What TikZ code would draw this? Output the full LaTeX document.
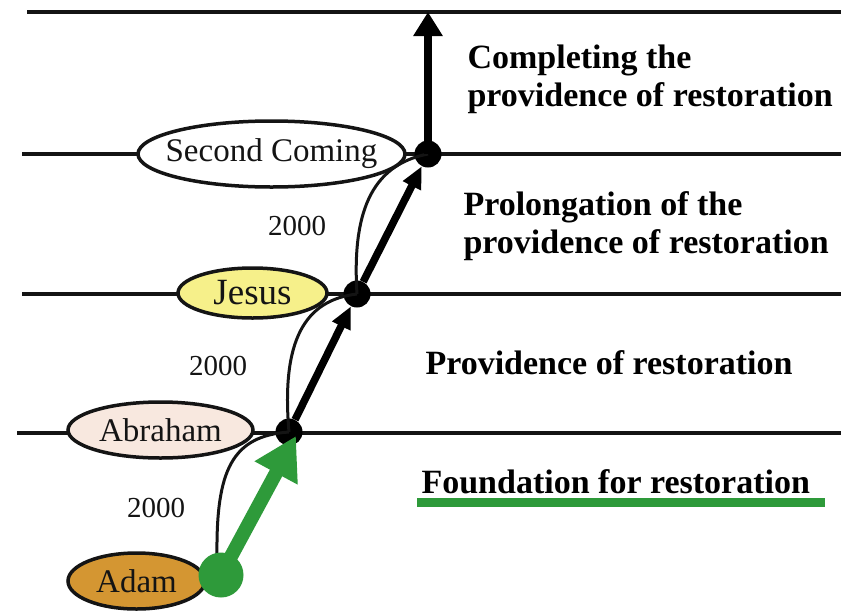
\documentclass[tikz,border=0pt]{standalone}
\usepackage{fontspec}
\setmainfont{Liberation Serif}
\usetikzlibrary{arrows.meta,shapes.geometric}
\definecolor{adamfill}{HTML}{D49632}
\definecolor{jesusfill}{HTML}{F6F08A}
\definecolor{abrfill}{HTML}{F8E8DF}
\definecolor{grn}{HTML}{2E9A3A}
\definecolor{ink}{HTML}{141414}
\tikzset{
  level/.style={line width=3.5pt, ink},
  person/.style={ellipse, draw=ink, line width=3.5pt, inner sep=0pt, text=ink,
    font=\fontsize{33}{36}\selectfont},
  joint/.style={circle, fill=black, inner sep=0pt, minimum size=27pt},
  thinpath/.style={line width=3pt, ink},
  thickarrow/.style={line width=7.5pt, black, -{Triangle[length=22pt,width=19pt]}},
  years/.style={text=ink, font=\fontsize{29}{32}\selectfont},
  heading/.style={anchor=base west, align=left, text=black,
    font=\fontsize{34}{38}\selectfont\bfseries},
}
\begin{document}
\begin{tikzpicture}[x=1pt,y=-1pt]
\useasboundingbox (0,0) rectangle (841,611);
\fill[white] (0,0) rectangle (841,611);
% level lines
\coordinate (t0) at (27,12);   \coordinate (t1) at (841,12);
\coordinate (s0) at (22,154);  \coordinate (s1) at (841,154);
\coordinate (j0) at (22,294);  \coordinate (j1) at (841,294);
\coordinate (a0) at (17,433);  \coordinate (a1) at (841,433);
\draw[level] (t0) -- (t1);
\draw[level] (s0) -- (s1);
\draw[level] (j0) -- (j1);
\draw[level] (a0) -- (a1);
% joints
\node[joint] (scdot) at (428,154) {};
\node[joint] (jdot) at (357,294) {};
\node[joint] (adot) at (289,432) {};
\coordinate (top) at (428,12);
% thin curves
\coordinate (adamtop) at (217,556);
\draw[thinpath] (adamtop) .. controls (216,470) and (232,436) .. (adot.center);
\draw[thinpath] (adot.center) .. controls (281,340) and (305,300) .. (jdot.center);
\draw[thinpath] (jdot.center) .. controls (352,215) and (370,165) .. (scdot.center);
% persons
\node[person, fill=white, minimum width=267pt, minimum height=66pt] (sc) at (271.5,154) {\makebox[0pt]{Second Coming}};
\node[person, fill=jesusfill, minimum width=149pt, minimum height=50pt, font=\fontsize{37}{40}\selectfont] (jesus) at (252.5,293) {\makebox[0pt]{Jesus}};
\node[person, fill=abrfill, minimum width=185pt, minimum height=56pt] (abraham) at (160.5,430) {\makebox[0pt]{Abraham}};
\node[person, fill=adamfill, minimum width=137pt, minimum height=56pt] (adam) at (136.5,581) {\makebox[0pt]{Adam}};
% thick arrows
\draw[thickarrow] (adot) -- (jdot);
\draw[thickarrow] (jdot) -- (scdot);
\draw[line width=7.5pt, black, -{Triangle[length=24pt,width=28pt]}] (scdot.center) -- (top);
% years
\node[years] (y1) at (297,226) {2000};
\node[years] (y2) at (218,366) {2000};
\node[years] (y3) at (156,508) {2000};
% headings
\node[heading] (h1) at (464,106) {Completing the\\providence of restoration};
\node[heading] (h2) at (460,253) {Prolongation of the\\providence of restoration};
\node[heading] (h3) at (422,374) {Providence of restoration};
\node[heading] (h4) at (418,493) {Foundation for restoration};
\coordinate (u0) at (417,502); \coordinate (u1) at (825,502);
\draw[grn, line width=9pt] (u0) -- (u1);
% green arrow
\node[circle, fill=grn, inner sep=0pt, minimum size=45pt] (gdot) at (221,575) {};
\coordinate (gtip) at (296,436);
\draw[grn, line width=14pt, -{Triangle[length=42pt,width=46pt]}] (gdot.center) -- (gtip);
\end{tikzpicture}
\end{document}
